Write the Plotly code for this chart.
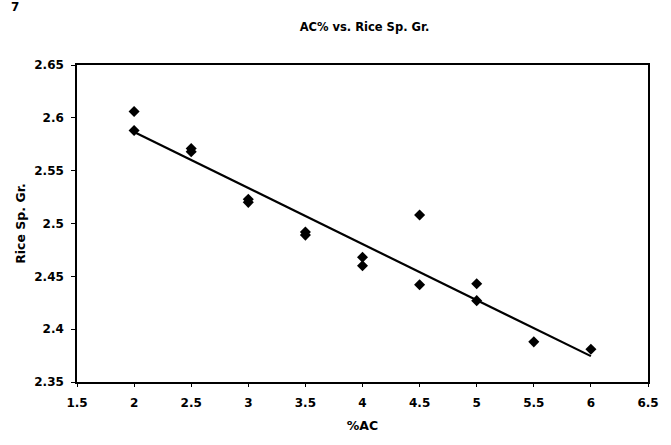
import numpy as np
import plotly.graph_objects as go

# Data
ac_pct = [2, 2, 2.5, 2.5, 3, 3, 3.5, 3.5, 4, 4, 4.5, 4.5, 5, 5, 5.5, 6]
sp_gr = [2.606, 2.588, 2.571, 2.568, 2.523, 2.520, 2.492, 2.489,
         2.468, 2.460, 2.508, 2.442, 2.443, 2.427, 2.388, 2.381]

x_range = [1.5, 6.5]
y_range = [2.35, 2.65]

# Linear trendline from the data
slope, intercept = np.polyfit(ac_pct, sp_gr, 1)
trend_x = [min(ac_pct), max(ac_pct)]
trend_y = [slope * v + intercept for v in trend_x]

FONT = "DejaVu Sans, Arial, sans-serif"
W, H = 671, 445
ML, MR, MT, MB = 77, 19, 65, 63
PW, PH = W - ML - MR, H - MT - MB


def px_to_paper(px, py):
    return (px - ML) / PW, 1 - (py - MT) / PH


fig = go.Figure()
fig.add_trace(go.Scatter(
    x=trend_x, y=trend_y, mode="lines",
    line=dict(color="black", width=2.2), hoverinfo="skip", showlegend=False))
fig.add_trace(go.Scatter(
    x=ac_pct, y=sp_gr, mode="markers",
    marker=dict(symbol="diamond", size=8.5, color="black"), showlegend=False))

sx, sy = px_to_paper(15, 7)
fig.update_layout(
    width=W, height=H,
    margin=dict(l=ML, r=MR, t=MT, b=MB),
    paper_bgcolor="white", plot_bgcolor="white",
    font=dict(family=FONT, color="black", size=12),
    title=dict(text="<b>AC% vs. Rice Sp. Gr.</b>", x=(ML + PW / 2) / W, xanchor="center",
               y=1 - 27 / H, yanchor="middle",
               font=dict(family=FONT, size=11.5, color="black")),
    annotations=[dict(text="<b>7</b>", x=sx, y=sy, xref="paper", yref="paper",
                      xanchor="center", yanchor="middle", showarrow=False,
                      font=dict(family=FONT, size=12, color="black"))],
)

fig.update_xaxes(
    range=x_range, dtick=0.5, tick0=1.5, showgrid=False, zeroline=False,
    showline=True, linecolor="black", linewidth=1.5, mirror=True,
    ticks="outside", ticklen=3, tickcolor="black", tickwidth=1,
    ticklabelstandoff=6,
    tickfont=dict(family=FONT, size=12, color="black", weight="bold"),
    title=dict(text="<b>%AC</b>", font=dict(family=FONT, size=12.5, color="black"), standoff=12),
)
fig.update_yaxes(
    range=y_range, dtick=0.05, tick0=2.35, showgrid=False, zeroline=False,
    showline=True, linecolor="black", linewidth=1.5, mirror=True,
    ticks="outside", ticklen=4, tickcolor="black", tickwidth=1,
    ticklabelstandoff=5,
    tickfont=dict(family=FONT, size=12, color="black", weight="bold"),
    title=dict(text="<b>Rice Sp. Gr.</b>", font=dict(family=FONT, size=12.5, color="black"), standoff=6),
)

fig.write_html("out.html")
